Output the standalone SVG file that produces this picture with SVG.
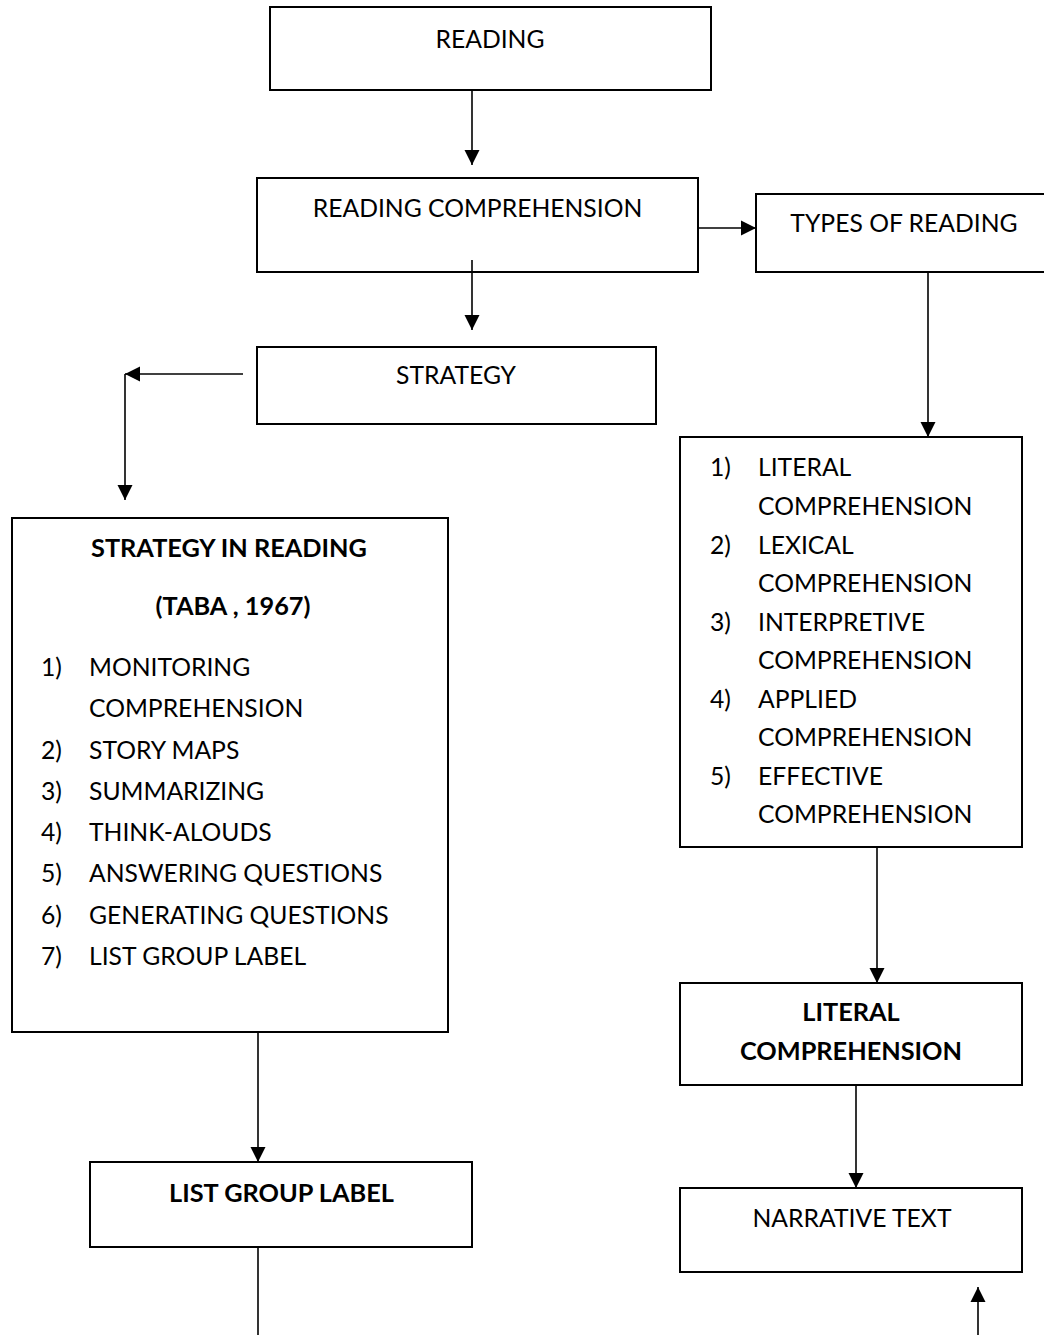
<svg xmlns="http://www.w3.org/2000/svg" width="1044" height="1335" viewBox="0 0 1044 1335">
  <style>
    .box { fill: #ffffff; stroke: #000000; stroke-width: 2; }
    .t { font-family: Lato, "Open Sans", "Liberation Sans", sans-serif; font-size: 24.7px; fill: #000000; }
    .c { text-anchor: middle; }
    .b { font-weight: bold; font-size: 25.3px; }
    .ln { stroke: #000000; stroke-width: 1.6; fill: none; }
  </style>
  <defs>
    <marker id="ah" markerUnits="userSpaceOnUse" markerWidth="16" markerHeight="16" refX="15" refY="7.5" orient="auto" overflow="visible">
      <path d="M0,0 L15,7.5 L0,15 Z" fill="#000000"/>
    </marker>
  </defs>
  <rect width="1044" height="1335" fill="#ffffff"/>

  <g id="connectors">
    <line class="ln" x1="472" y1="90" x2="472" y2="165" marker-end="url(#ah)"/>
    <line class="ln" x1="698" y1="228" x2="756" y2="228" marker-end="url(#ah)"/>
    <line class="ln" x1="472" y1="260" x2="472" y2="330" marker-end="url(#ah)"/>
    <line class="ln" x1="243" y1="374" x2="125" y2="374" marker-end="url(#ah)"/>
    <line class="ln" x1="125" y1="374" x2="125" y2="500" marker-end="url(#ah)"/>
    <line class="ln" x1="928" y1="272" x2="928" y2="437" marker-end="url(#ah)"/>
    <line class="ln" x1="877" y1="833" x2="877" y2="983" marker-end="url(#ah)"/>
    <line class="ln" x1="856" y1="1085" x2="856" y2="1188" marker-end="url(#ah)"/>
    <line class="ln" x1="258" y1="1032" x2="258" y2="1162" marker-end="url(#ah)"/>
    <line class="ln" x1="258" y1="1247" x2="258" y2="1335"/>
    <line class="ln" x1="978" y1="1335" x2="978" y2="1287" marker-end="url(#ah)"/>
  </g>

  <g id="reading">
    <rect class="box" x="270" y="7" width="441" height="83"/>
    <text class="t c" x="490" y="47.5">READING</text>
  </g>

  <g id="reading-comprehension">
    <rect class="box" x="257" y="178" width="441" height="94"/>
    <text class="t c" x="477.5" y="217">READING COMPREHENSION</text>
    <line class="ln" x1="472" y1="260" x2="472" y2="272"/>
  </g>

  <g id="types-of-reading">
    <path class="box" d="M1046,194 L756,194 L756,272 L1046,272"/>
    <text class="t c" x="904" y="231.5">TYPES OF READING</text>
  </g>

  <g id="strategy">
    <rect class="box" x="257" y="347" width="399" height="77"/>
    <text class="t c" x="456" y="384">STRATEGY</text>
  </g>

  <g id="strategy-in-reading">
    <rect class="box" x="12" y="518" width="436" height="514"/>
    <text class="t c b" x="229" y="556.5">STRATEGY IN READING</text>
    <text class="t c b" x="233" y="615">(TABA , 1967)</text>
    <text class="t" x="41" y="676">1)</text>
    <text class="t" x="89" y="676">MONITORING</text>
    <text class="t" x="89" y="716.5">COMPREHENSION</text>
    <text class="t" x="41" y="758.5">2)</text>
    <text class="t" x="89" y="758.5">STORY MAPS</text>
    <text class="t" x="41" y="800">3)</text>
    <text class="t" x="89" y="800">SUMMARIZING</text>
    <text class="t" x="41" y="841">4)</text>
    <text class="t" x="89" y="841">THINK-ALOUDS</text>
    <text class="t" x="41" y="882">5)</text>
    <text class="t" x="89" y="882">ANSWERING QUESTIONS</text>
    <text class="t" x="41" y="923.5">6)</text>
    <text class="t" x="89" y="923.5">GENERATING QUESTIONS</text>
    <text class="t" x="41" y="965">7)</text>
    <text class="t" x="89" y="965">LIST GROUP LABEL</text>
  </g>

  <g id="types-list">
    <rect class="box" x="680" y="437" width="342" height="410"/>
    <text class="t" x="710" y="476">1)</text>
    <text class="t" x="758" y="476">LITERAL</text>
    <text class="t" x="758" y="514.5">COMPREHENSION</text>
    <text class="t" x="710" y="553.5">2)</text>
    <text class="t" x="758" y="553.5">LEXICAL</text>
    <text class="t" x="758" y="592">COMPREHENSION</text>
    <text class="t" x="710" y="630.5">3)</text>
    <text class="t" x="758" y="630.5">INTERPRETIVE</text>
    <text class="t" x="758" y="669">COMPREHENSION</text>
    <text class="t" x="710" y="707.5">4)</text>
    <text class="t" x="758" y="707.5">APPLIED</text>
    <text class="t" x="758" y="746">COMPREHENSION</text>
    <text class="t" x="710" y="784.5">5)</text>
    <text class="t" x="758" y="784.5">EFFECTIVE</text>
    <text class="t" x="758" y="823">COMPREHENSION</text>
  </g>

  <g id="literal-comprehension">
    <rect class="box" x="680" y="983" width="342" height="102"/>
    <text class="t c b" x="851" y="1021">LITERAL</text>
    <text class="t c b" x="851" y="1060">COMPREHENSION</text>
  </g>

  <g id="narrative-text">
    <rect class="box" x="680" y="1188" width="342" height="84"/>
    <text class="t c" x="852" y="1227">NARRATIVE TEXT</text>
  </g>

  <g id="list-group-label">
    <rect class="box" x="90" y="1162" width="382" height="85"/>
    <text class="t c b" x="281.5" y="1202">LIST GROUP LABEL</text>
  </g>
</svg>
